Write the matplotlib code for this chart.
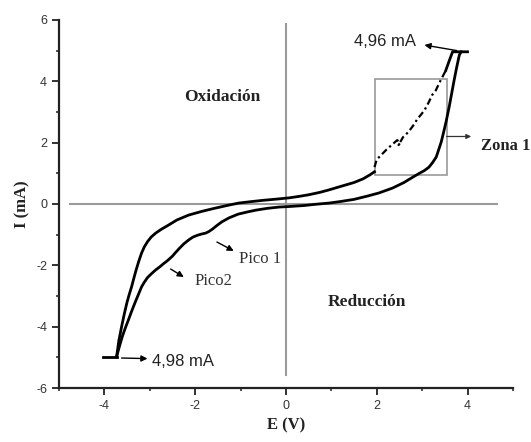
import matplotlib.pyplot as plt
from matplotlib.patches import Rectangle
from matplotlib.ticker import MultipleLocator

plt.rcParams['axes.unicode_minus'] = False

# forward scan (upper curve), E in V, I in mA
fwd_E = [-3.73, -3.68, -3.62, -3.56, -3.50, -3.45, -3.40, -3.35, -3.30, -3.24,
         -3.18, -3.12, -3.05, -2.97, -2.87, -2.74, -2.60, -2.40, -2.14, -1.85,
         -1.60, -1.30, -1.04, -0.75, -0.50, -0.20, 0.07, 0.30, 0.50, 0.75,
         0.95, 1.20, 1.50, 1.70, 1.85, 1.95]
fwd_I = [-4.98, -4.45, -4.00, -3.58, -3.20, -2.94, -2.70, -2.42, -2.15, -1.86,
         -1.60, -1.40, -1.23, -1.08, -0.95, -0.82, -0.70, -0.52, -0.36, -0.24,
         -0.15, -0.05, 0.03, 0.08, 0.12, 0.16, 0.20, 0.25, 0.30, 0.38,
         0.46, 0.57, 0.70, 0.82, 0.95, 1.05]

# noisy part of the forward scan inside "Zona 1"
zone_E = [1.95, 2.00, 2.10, 2.22, 2.35, 2.45, 2.52, 2.48, 2.58, 2.70,
          2.80, 2.90, 2.98, 3.06, 3.14, 3.22, 3.30, 3.38, 3.45, 3.52]
zone_I = [1.20, 1.45, 1.60, 1.78, 1.95, 2.08, 2.00, 1.92, 2.18, 2.35,
          2.55, 2.78, 2.92, 3.08, 3.30, 3.55, 3.70, 3.95, 4.15, 4.35]

# end of the forward scan up to the current limit
top_E = [3.52, 3.58, 3.63, 3.67, 4.00]
top_I = [4.35, 4.60, 4.80, 4.96, 4.96]

# reverse scan (lower curve)
rev_E = [3.86, 3.82, 3.76, 3.70, 3.65, 3.60, 3.53, 3.47, 3.42, 3.36,
         3.31, 3.23, 3.15, 3.05, 2.94, 2.80, 2.60, 2.35, 2.05, 1.80,
         1.50, 1.20, 0.95, 0.65, 0.40, 0.10, -0.15, -0.40, -0.66, -0.85,
         -1.05, -1.25, -1.41, -1.52, -1.62, -1.70, -1.77, -1.86, -1.95, -2.05,
         -2.14, -2.25, -2.35, -2.43, -2.50, -2.56, -2.62, -2.70, -2.78, -2.87,
         -2.96, -3.05, -3.12, -3.18, -3.25, -3.32, -3.40, -3.47, -3.54, -3.60,
         -3.65, -3.69, -3.73]
rev_I = [4.96, 4.86, 4.45, 4.00, 3.60, 3.20, 2.70, 2.32, 2.02, 1.75,
         1.53, 1.35, 1.20, 1.09, 1.00, 0.88, 0.70, 0.52, 0.36, 0.26,
         0.15, 0.08, 0.03, -0.01, -0.05, -0.08, -0.10, -0.14, -0.20, -0.26,
         -0.33, -0.45, -0.58, -0.70, -0.82, -0.90, -0.95, -0.98, -1.02, -1.08,
         -1.17, -1.30, -1.45, -1.58, -1.70, -1.78, -1.86, -1.95, -2.05, -2.15,
         -2.27, -2.40, -2.55, -2.70, -2.95, -3.20, -3.50, -3.78, -4.05, -4.30,
         -4.55, -4.76, -4.98]

# lower current limit
bot_E = [-4.02, -3.73]
bot_I = [-4.98, -4.98]

# box around the noisy zone
zone_box_E = [1.97, 3.54]
zone_box_I = [0.95, 4.07]

serif = ['Liberation Serif', 'DejaVu Serif']
sans = ['Liberation Sans', 'DejaVu Sans']

fig = plt.figure(figsize=(5.31, 4.42), dpi=100)
ax = fig.add_axes([0.111, 0.122, 0.855, 0.833])

ax.axhline(0, xmin=0.025, xmax=0.964, color='#9a9a9a', lw=1.5, zorder=1)
ax.axvline(0, ymin=0.035, ymax=0.988, color='#9a9a9a', lw=1.5, zorder=1)

ax.add_patch(Rectangle((zone_box_E[0], zone_box_I[0]),
                       zone_box_E[1] - zone_box_E[0], zone_box_I[1] - zone_box_I[0],
                       fill=False, ec='#999999', lw=1.2, zorder=2))

ax.plot(fwd_E, fwd_I, color='k', lw=2.0, zorder=3)
ax.plot(zone_E, zone_I, color='k', lw=1.6, ls=(0, (3, 1.5, 1, 1.5)), zorder=3)
ax.plot(top_E, top_I, color='k', lw=2.0, zorder=3)
ax.plot(rev_E, rev_I, color='k', lw=2.0, zorder=3)
ax.plot(bot_E, bot_I, color='k', lw=2.0, zorder=3)

arrow = dict(arrowstyle='-|>', color='k', lw=1.0, mutation_scale=9, shrinkA=0, shrinkB=0)

ax.annotate('', xy=(3.05, 5.18), xytext=(3.76, 5.0), arrowprops=arrow)
ax.text(2.87, 5.28, '4,96 mA', family=sans, fontsize=12, color='#222222',
        ha='right', va='center')

ax.annotate('', xy=(-3.05, -5.04), xytext=(-3.62, -5.02), arrowprops=arrow)
ax.text(-2.95, -5.12, '4,98 mA', family=sans, fontsize=12, color='#222222',
        ha='left', va='center')

ax.annotate('', xy=(-1.15, -1.53), xytext=(-1.52, -1.24), arrowprops=arrow)
ax.text(-1.04, -1.79, 'Pico 1', family=serif, fontsize=12, color='#333333',
        ha='left', va='center')

ax.annotate('', xy=(-2.25, -2.38), xytext=(-2.54, -2.12), arrowprops=arrow)
ax.text(-2.01, -2.51, 'Pico2', family=serif, fontsize=12, color='#333333',
        ha='left', va='center')

ax.annotate('', xy=(4.08, 2.2), xytext=(3.54, 2.2),
            arrowprops=dict(arrowstyle='-|>', color='#333333', lw=0.9,
                            mutation_scale=7, shrinkA=0, shrinkB=0))
ax.text(4.3, 1.9, 'Zona 1', family=serif, fontsize=12, fontweight='bold',
        color='#222222', ha='left', va='center', clip_on=False)

ax.text(-1.4, 3.49, 'Oxidación', family=serif, fontsize=12.5, fontweight='bold',
        color='#222222', ha='center', va='center')
ax.text(1.78, -3.2, 'Reducción', family=serif, fontsize=12.5, fontweight='bold',
        color='#222222', ha='center', va='center')

ax.set_xlim(-5, 5)
ax.set_ylim(-6, 6)
ax.xaxis.set_major_locator(MultipleLocator(2))
ax.xaxis.set_minor_locator(MultipleLocator(1))
ax.yaxis.set_major_locator(MultipleLocator(2))
ax.yaxis.set_minor_locator(MultipleLocator(1))

for side in ['top', 'right']:
    ax.spines[side].set_visible(False)
for side in ['left', 'bottom']:
    ax.spines[side].set_linewidth(1.6)
    ax.spines[side].set_color('#222222')

ax.tick_params(which='major', direction='out', length=5, width=1.3, color='#222222',
               labelsize=9, labelcolor='#333333')
ax.tick_params(which='minor', direction='out', length=2.5, width=1.1, color='#222222')
for lbl in ax.get_xticklabels() + ax.get_yticklabels():
    lbl.set_family(sans)

ax.set_xlabel('E (V)', family=serif, fontsize=12, fontweight='bold', color='#222222')
ax.set_ylabel('I (mA)', family=serif, fontsize=12, fontweight='bold', color='#222222')

fig.savefig('out.png', dpi=100)
